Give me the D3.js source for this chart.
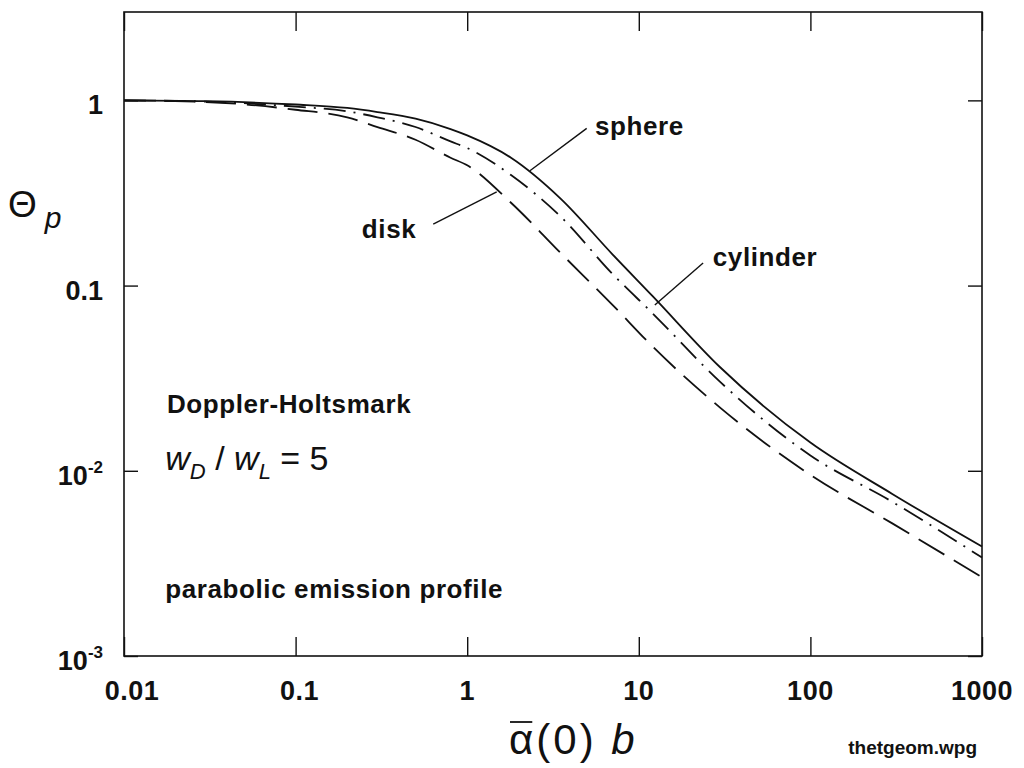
<!DOCTYPE html>
<html>
<head>
<meta charset="utf-8">
<script src="https://cdn.jsdelivr.net/npm/d3@7"></script>
<style>
  html, body { margin: 0; padding: 0; background: #fff; }
  svg { display: block; }
  text { font-family: "Liberation Sans", Arial, sans-serif; fill: #111; }
</style>
</head>
<body>
<svg id="chart" width="1024" height="768"></svg>
<script>
// ---- data ----
const xValues = [0.01, 0.03, 0.1, 0.2, 0.3, 0.5, 0.8, 1, 1.8, 3.5, 7, 12, 30, 100, 300, 1000];
const sphere   = [1.0, 0.99, 0.95, 0.91, 0.865, 0.796, 0.70, 0.647, 0.49, 0.295, 0.148, 0.088, 0.036, 0.0142, 0.0075, 0.0039];
const cylinder = [1.0, 0.985, 0.925, 0.873, 0.81, 0.718, 0.60, 0.553, 0.395, 0.236, 0.116, 0.071, 0.030, 0.0121, 0.0068, 0.0034];
const disk     = [1.0, 0.98, 0.89, 0.81, 0.717, 0.613, 0.49, 0.446, 0.28, 0.15, 0.079, 0.047, 0.0218, 0.0095, 0.0052, 0.00266];

const xTicks = [0.01, 0.1, 1, 10, 100, 1000];
const xTickLabels = ["0.01", "0.1", "1", "10", "100", "1000"];
const yTicks = [1, 0.1, 0.01, 0.001];
const yTickBase = ["1", "0.1", "10", "10"];
const yTickSup = ["", "", "-2", "-3"];

const seriesNames = ["sphere", "cylinder", "disk"];
// label anchor (text position), leader line from -> to, in data coords
const labelText = [[5.55, 0.647], [27.0, 0.128], [0.505, 0.18]];
const labelAnchor = ["start", "start", "end"];
const leaderFrom = [[4.97, 0.706], [23.7, 0.1324], [0.634, 0.215]];
const leaderTo   = [[2.32, 0.417], [12.4, 0.0785], [1.486, 0.321]];

// ---- layout ----
const svg = d3.select("#chart");
const mLeft = 124, mRight = 982, mTop = 12, mBottom = 656;
const x = d3.scaleLog().domain([0.01, 1000]).range([mLeft, mRight]);
const y = d3.scaleLog().domain([0.001, 3]).range([mBottom, mTop]);

const ink = "#111";
const labelFont = 26, labelSpacing = 0.6;

// frame
svg.append("rect")
  .attr("x", mLeft).attr("y", mTop)
  .attr("width", mRight - mLeft).attr("height", mBottom - mTop)
  .attr("fill", "none").attr("stroke", ink).attr("stroke-width", 1.6);

// axes (ticks only, pointing inward)
const noFmt = () => "";
function styleAxis(g) {
  g.select(".domain").remove();
  g.selectAll(".tick line").attr("stroke", ink).attr("stroke-width", 1.4);
  g.selectAll(".tick text").remove();
}
svg.append("g").attr("transform", `translate(0,${mBottom})`)
  .call(d3.axisBottom(x).tickValues(xTicks).tickFormat(noFmt).tickSize(-19)).call(styleAxis);
svg.append("g").attr("transform", `translate(0,${mTop})`)
  .call(d3.axisTop(x).tickValues(xTicks).tickFormat(noFmt).tickSize(-19)).call(styleAxis);
svg.append("g").attr("transform", `translate(${mLeft},0)`)
  .call(d3.axisLeft(y).tickValues(yTicks).tickFormat(noFmt).tickSize(-14)).call(styleAxis);
svg.append("g").attr("transform", `translate(${mRight},0)`)
  .call(d3.axisRight(y).tickValues(yTicks).tickFormat(noFmt).tickSize(-14)).call(styleAxis);

// x tick labels
const xLabelDx = [8, 4, 0, 0, 0, 0];
svg.append("g").selectAll("text").data(xTicks).join("text")
  .attr("x", (d, i) => x(d) + xLabelDx[i])
  .attr("y", 700)
  .attr("text-anchor", "middle")
  .attr("font-size", 27).attr("font-weight", "bold")
  .attr("letter-spacing", 0.5)
  .text((d, i) => xTickLabels[i]);

// y tick labels
const yl = svg.append("g").selectAll("text").data(yTicks).join("text")
  .attr("x", 103)
  .attr("y", d => y(d) + 14)
  .attr("text-anchor", "end")
  .attr("font-size", 27).attr("font-weight", "bold");
yl.append("tspan").text((d, i) => yTickBase[i]);
yl.append("tspan").attr("dy", -12).attr("font-size", 17).text((d, i) => yTickSup[i]);

// curves
const line = d3.line()
  .x(d => x(d[0])).y(d => y(d[1]))
  .curve(d3.curveMonotoneX);
const seriesData = [sphere, cylinder, disk];
const dashes = ["none", "22,8,2,8", "30,11"];
svg.append("g").selectAll("path").data(seriesData).join("path")
  .attr("d", vals => line(xValues.map((xv, i) => [xv, vals[i]])))
  .attr("fill", "none")
  .attr("stroke", ink)
  .attr("stroke-width", 1.8)
  .attr("stroke-dasharray", (d, i) => dashes[i]);

// series labels and leader lines
svg.append("g").selectAll("line").data(seriesNames).join("line")
  .attr("x1", (d, i) => x(leaderFrom[i][0])).attr("y1", (d, i) => y(leaderFrom[i][1]))
  .attr("x2", (d, i) => x(leaderTo[i][0])).attr("y2", (d, i) => y(leaderTo[i][1]))
  .attr("stroke", ink).attr("stroke-width", 1.4);
svg.append("g").selectAll("text").data(seriesNames).join("text")
  .attr("x", (d, i) => x(labelText[i][0]))
  .attr("y", (d, i) => y(labelText[i][1]))
  .attr("text-anchor", (d, i) => labelAnchor[i])
  .attr("font-size", labelFont).attr("font-weight", "bold")
  .attr("letter-spacing", labelSpacing)
  .text(d => d);

// in-plot annotations
svg.append("text").attr("x", x(0.0178)).attr("y", y(0.0205))
  .attr("font-size", labelFont).attr("font-weight", "bold")
  .attr("letter-spacing", labelSpacing).text("Doppler-Holtsmark");

const eq = svg.append("text").attr("x", x(0.0174)).attr("y", y(0.0101))
  .attr("font-size", 34);
eq.append("tspan").attr("font-style", "italic").text("w");
eq.append("tspan").attr("font-style", "italic").attr("font-size", 22).attr("dy", 9).text("D");
eq.append("tspan").attr("dy", -9).text(" / ");
eq.append("tspan").attr("font-style", "italic").text("w");
eq.append("tspan").attr("font-style", "italic").attr("font-size", 22).attr("dy", 9).text("L");
eq.append("tspan").attr("dy", -9).text(" = 5");

svg.append("text").attr("x", x(0.0174)).attr("y", y(0.00206))
  .attr("font-size", labelFont).attr("font-weight", "bold")
  .attr("letter-spacing", labelSpacing).text("parabolic emission profile");

// y axis title: Θ_p
const yt = svg.append("text").attr("x", 8).attr("y", 217).attr("font-size", 37);
yt.append("tspan").text("Θ");
yt.append("tspan").attr("font-style", "italic").attr("font-size", 30).attr("dx", 8).attr("dy", 11).text("p");

// x axis title: ᾱ(0) b with overline on alpha
const xt = svg.append("text").attr("x", 509).attr("y", 754).attr("font-size", 42)
  .attr("letter-spacing", 3);
const alpha = xt.append("tspan").text("α");
xt.append("tspan").text("(0) ");
xt.append("tspan").attr("font-style", "italic").text("b");
const aw = alpha.node().getComputedTextLength();
svg.append("line")
  .attr("x1", 509 + 1).attr("x2", 509 + aw - 4)
  .attr("y1", 722).attr("y2", 722)
  .attr("stroke", ink).attr("stroke-width", 1.8);

// file name
svg.append("text").attr("x", 977).attr("y", 754).attr("text-anchor", "end")
  .attr("font-size", 19).attr("font-weight", "bold").text("thetgeom.wpg");
</script>
</body>
</html>
